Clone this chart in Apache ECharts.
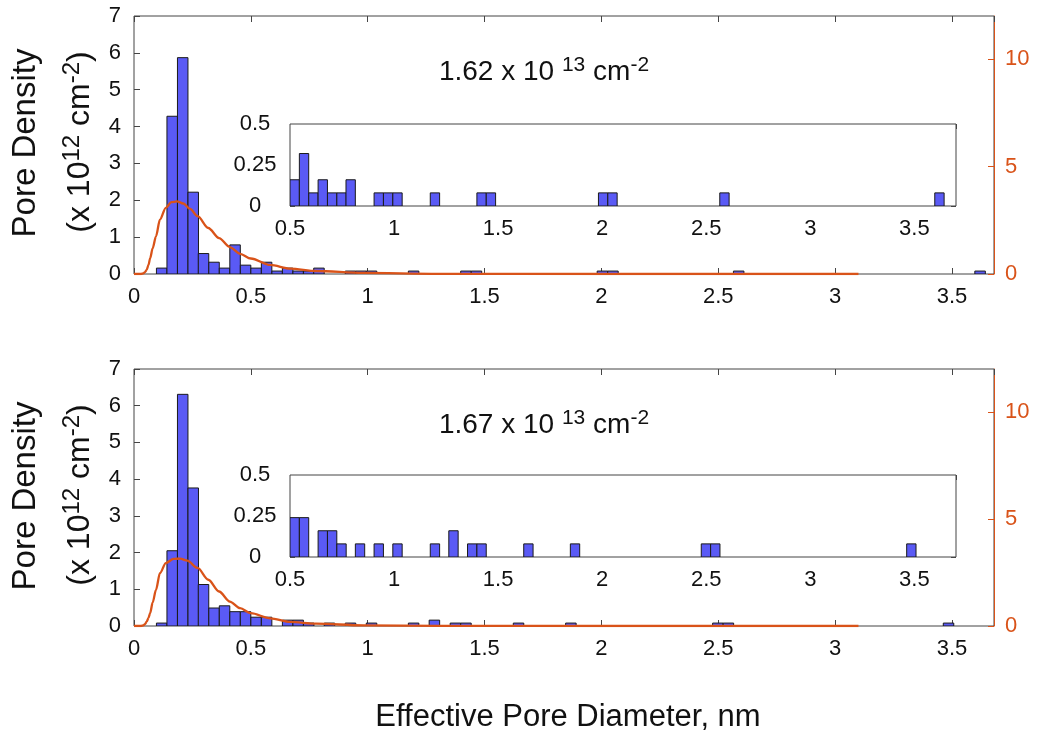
<!DOCTYPE html>
<html>
<head>
<meta charset="utf-8">
<script src="https://cdn.jsdelivr.net/npm/echarts@6/dist/echarts.min.js"></script>
<style>html,body{margin:0;padding:0;background:#fff}#c{width:1039px;height:734px}</style>
</head>
<body>
<div id="c"></div>
<script>
// ---- data ----
const binWidth = 0.0449;
// top panel histogram: bin left edges (nm) and pore density (x10^12 cm^-2)
const topBinLeft = [0.096,0.141,0.186,0.231,0.275,0.320,0.365,0.410,0.455,0.500,0.545,0.590,0.635,0.680,0.725,0.769,0.904,0.949,0.994,1.174,1.398,1.443,1.982,2.027,2.565,3.598];
const topHeights = [0.16,4.28,5.87,2.22,0.555,0.32,0.16,0.79,0.24,0.16,0.32,0.08,0.16,0.08,0.08,0.16,0.08,0.08,0.08,0.08,0.08,0.08,0.08,0.08,0.08,0.08];
// bottom panel histogram
const botBinLeft = [0.096,0.141,0.186,0.231,0.275,0.320,0.365,0.410,0.455,0.500,0.545,0.635,0.680,0.725,0.814,0.904,0.994,1.174,1.263,1.353,1.398,1.623,1.847,2.476,2.521,3.463];
const botHeights = [0.08,2.05,6.31,3.76,1.13,0.49,0.55,0.39,0.39,0.24,0.24,0.16,0.16,0.08,0.08,0.08,0.08,0.08,0.16,0.08,0.08,0.08,0.08,0.08,0.08,0.08];
// fitted distribution curves (right axis)
const topCurveX = [0,0.03,0.04,0.047,0.054,0.062,0.069,0.08,0.094,0.111,0.136,0.16,0.183,0.211,0.24,0.272,0.318,0.364,0.41,0.454,0.5,0.583,0.669,0.78,0.98,1.3,2.0,3.1];
const topCurveY = [0,0,0.03,0.09,0.19,0.42,0.73,1.2,1.75,2.53,3.08,3.34,3.38,3.28,3.03,2.69,2.14,1.67,1.25,0.94,0.72,0.42,0.25,0.14,0.05,0.01,0,0];
const botCurveX = [0,0.03,0.04,0.047,0.054,0.062,0.069,0.08,0.094,0.111,0.136,0.169,0.197,0.228,0.272,0.318,0.364,0.41,0.454,0.5,0.583,0.669,0.78,0.98,1.3,2.0,3.1];
const botCurveY = [0,0,0.03,0.09,0.2,0.38,0.6,1.1,1.69,2.47,2.94,3.13,3.15,3.05,2.71,2.16,1.61,1.14,0.83,0.6,0.36,0.19,0.11,0.03,0.01,0,0];
const mainXTicks = [0,0.5,1,1.5,2,2.5,3,3.5];
const totals = ['1.62', '1.67'];

// ---- helpers ----
const FONT = "'Liberation Sans', Arial, sans-serif";
const AX = '#454545', ORANGE = '#d95319', BAR = '#5a5af5';
const pairs = (xs, ys) => xs.map((x, i) => [x, ys[i]]);
const insetPairs = (xs, ys) => pairs(xs, ys).filter(p => p[0] >= 0.5 - 1e-9);
const isMult = (v, s) => Math.abs(v / s - Math.round(v / s)) < 1e-6;
function histItem(params, api) {
  const x0 = api.value(0), h = api.value(1);
  const p0 = api.coord([x0, 0]);
  const p1 = api.coord([x0 + binWidth, h]);
  return { type: 'rect', shape: { x: p0[0], y: p1[1], width: p1[0] - p0[0], height: p0[1] - p1[1] },
    style: { fill: BAR, stroke: '#1a1a1a', lineWidth: 1 } };
}
const tickStyle = { show: true, inside: true, length: 6, lineStyle: { color: AX, width: 1 } };
const noLine = { show: false, onZero: false };
const lbl = (extra) => Object.assign({ fontFamily: FONT, fontSize: 22, color: '#111' }, extra);

const grids = [
  { left: 134, top: 16, width: 860, height: 258 },
  { left: 290, top: 124, width: 666, height: 82 },
  { left: 134, top: 369, width: 860, height: 257 },
  { left: 290, top: 475, width: 666, height: 82 }
].map((g, i) => Object.assign({ show: true, borderColor: AX, borderWidth: 1, backgroundColor: i % 2 ? '#fff' : 'transparent', z: i % 2 ? 3 : 0 }, g));

const xAxes = [], yAxes = [];
[0, 2].forEach(gi => {
  xAxes.push({ type: 'value', gridIndex: gi, min: 0, max: 3.68, interval: 0.5, axisLine: noLine, splitLine: { show: false },
    axisTick: tickStyle, axisLabel: lbl({ margin: 12, showMaxLabel: false, formatter: v => isMult(v, 0.5) && mainXTicks.includes(Math.round(v*2)/2) ? String(v) : '' }) });
  xAxes.push({ type: 'value', gridIndex: gi, position: 'top', min: 0, max: 3.68, interval: 0.5, axisLine: noLine, splitLine: { show: false },
    axisTick: tickStyle, axisLabel: { show: false } });
  xAxes.push({ type: 'value', gridIndex: gi + 1, min: 0.5, max: 3.7, interval: 0.5, axisLine: noLine, splitLine: { show: false },
    axisTick: Object.assign({}, tickStyle, { length: 5 }), axisLabel: lbl({ margin: 12, showMaxLabel: false, formatter: v => isMult(v, 0.5) ? String(v) : '' }) });
  xAxes.push({ type: 'value', gridIndex: gi + 1, position: 'top', min: 0.5, max: 3.7, interval: 0.5, axisLine: noLine, splitLine: { show: false },
    axisTick: Object.assign({}, tickStyle, { length: 5 }), axisLabel: { show: false } });

  yAxes.push({ type: 'value', gridIndex: gi, min: 0, max: 7, interval: 1, axisLine: noLine, splitLine: { show: false },
    axisTick: tickStyle, axisLabel: lbl({ margin: 13 }) });
  yAxes.push({ type: 'value', gridIndex: gi, position: 'right', min: 0, max: 12, interval: 5, splitLine: { show: false },
    axisLine: { show: true, onZero: false, lineStyle: { color: ORANGE, width: 1 } },
    axisTick: { show: true, inside: true, length: 6, lineStyle: { color: ORANGE } },
    axisLabel: lbl({ margin: 11, color: ORANGE, showMaxLabel: false, formatter: v => isMult(v, 5) ? String(v) : '' }) });
  yAxes.push({ type: 'value', gridIndex: gi + 1, min: 0, max: 0.5, interval: 0.25, axisLine: noLine, splitLine: { show: false },
    axisTick: Object.assign({}, tickStyle, { length: 5 }), axisLabel: lbl({ margin: 35, align: 'center' }) });
  yAxes.push({ type: 'value', gridIndex: gi + 1, position: 'right', min: 0, max: 0.5, interval: 0.25, axisLine: noLine, splitLine: { show: false },
    axisTick: Object.assign({}, tickStyle, { length: 5 }), axisLabel: { show: false } });
});

const panels = [
  { bins: pairs(topBinLeft, topHeights), ins: insetPairs(topBinLeft, topHeights), curve: pairs(topCurveX, topCurveY) },
  { bins: pairs(botBinLeft, botHeights), ins: insetPairs(botBinLeft, botHeights), curve: pairs(botCurveX, botCurveY) }
];
const series = [];
panels.forEach((p, i) => {
  const b = i * 4;
  series.push({ type: 'custom', xAxisIndex: b, yAxisIndex: b, renderItem: histItem, data: p.bins, encode: { x: 0, y: 1 }, clip: true, z: 2 });
  series.push({ type: 'line', xAxisIndex: b, yAxisIndex: b + 1, data: p.curve, showSymbol: false, smooth: 0.3, smoothMonotone: 'x', clip: true,
    lineStyle: { color: ORANGE, width: 2.3 }, z: 2 });
  series.push({ type: 'custom', xAxisIndex: b + 2, yAxisIndex: b + 2, renderItem: histItem, data: p.ins, encode: { x: 0, y: 1 }, clip: true, z: 4 });
});

const sup = { fontFamily: FONT, fontSize: 21, verticalAlign: 'top', lineHeight: 34, fill: '#111' };
const graphics = [];
[0, 353].forEach((dy, i) => {
  graphics.push({ type: 'text', x: 544, y: 72 + dy, z: 10,
    style: { text: totals[i] + ' x 10 {s|13} cm{s|-2}', font: '28px ' + FONT, fill: '#111', align: 'center', verticalAlign: 'middle', textAlign: 'center', textVerticalAlign: 'middle', lineHeight: 34,
      rich: { s: sup } } });
  graphics.push({ type: 'text', x: 26, y: 143 + dy, rotation: Math.PI / 2, z: 10,
    style: { text: 'Pore Density', font: '33px ' + FONT, fill: '#111', align: 'center', verticalAlign: 'middle', textAlign: 'center', textVerticalAlign: 'middle' } });
  graphics.push({ type: 'text', x: 80, y: 142 + dy, rotation: Math.PI / 2, z: 10,
    style: { text: '(x 10{s|12} cm{s|-2})', font: '32px ' + FONT, fill: '#111', align: 'center', verticalAlign: 'middle', textAlign: 'center', textVerticalAlign: 'middle', lineHeight: 40,
      rich: { s: Object.assign({}, sup, { fontSize: 24, lineHeight: 40 }) } } });
});
graphics.push({ type: 'text', x: 568, y: 717, z: 10,
  style: { text: 'Effective Pore Diameter, nm', font: '31px ' + FONT, fill: '#111', align: 'center', verticalAlign: 'middle', textAlign: 'center', textVerticalAlign: 'middle' } });

const chart = echarts.init(document.getElementById('c'), null, { renderer: 'canvas' });
chart.setOption({
  backgroundColor: '#fff',
  animation: false,
  grid: grids,
  xAxis: xAxes,
  yAxis: yAxes,
  series: series,
  graphic: graphics
});
</script>
</body>
</html>
